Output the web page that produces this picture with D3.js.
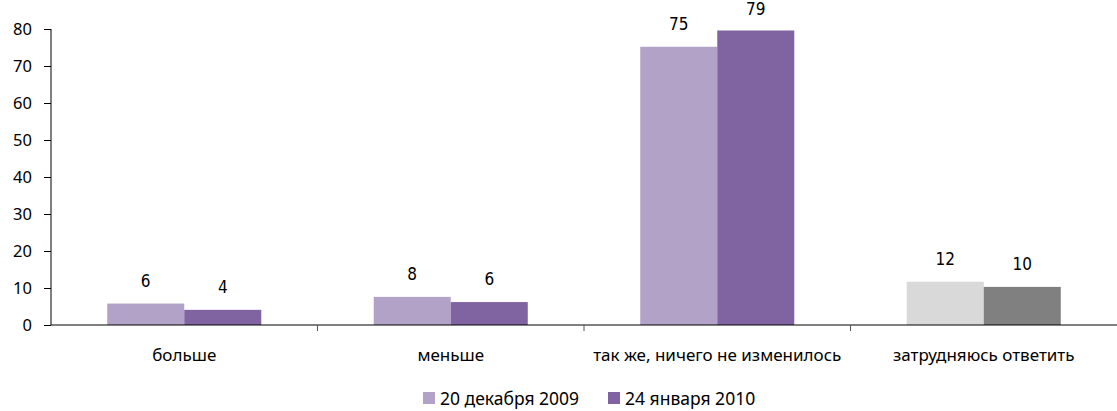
<!DOCTYPE html>
<html>
<head>
<meta charset="utf-8">
<script src="https://cdn.jsdelivr.net/npm/d3@7"></script>
<style>
  body { margin: 0; background: #fff; }
  svg text { font-family: "Noto Sans", sans-serif; fill: #000; }
  .val { font-family: "Liberation Sans Narrow", "DejaVu Sans Condensed", sans-serif; }
</style>
</head>
<body>
<div id="chart"></div>
<script>
// Data
const categories = ["больше", "меньше", "так же, ничего не изменилось", "затрудняюсь ответить"];
const seriesNames = ["20 декабря 2009", "24 января 2010"];
const dec2009 = [5.8, 7.6, 75.2, 11.7];
const jan2010 = [4.1, 6.2, 79.6, 10.3];
const dec2009Labels = [6, 8, 75, 12];
const jan2010Labels = [4, 6, 79, 10];
const yTicks = [0, 10, 20, 30, 40, 50, 60, 70, 80];

const colors = [
  ["#b3a2c7", "#8064a2"],
  ["#b3a2c7", "#8064a2"],
  ["#b3a2c7", "#8064a2"],
  ["#d9d9d9", "#808080"]
];
const legendColors = ["#b3a2c7", "#8064a2"];

const width = 1117, height = 411;
const margin = {top: 29, right: 0, bottom: 86, left: 51};
const innerW = width - margin.left - margin.right,
      innerH = height - margin.top - margin.bottom;

const svg = d3.select("#chart").append("svg")
  .attr("width", width)
  .attr("height", height);

const g = svg.append("g")
  .attr("transform", `translate(${margin.left},${margin.top})`);

const x = d3.scaleBand().domain(categories).range([0, innerW]);
const y = d3.scaleLinear().domain([0, 80]).range([innerH, 0]);

const barW = x.bandwidth() * 0.289;

// Y axis
const yAxis = g.append("g")
  .call(d3.axisLeft(y).tickValues(yTicks).tickSize(7).tickPadding(12));
yAxis.select(".domain").attr("stroke", "#000").attr("d", `M0,0V${innerH}`);
yAxis.selectAll(".tick line").attr("stroke", "#000");
yAxis.selectAll(".tick text").style("font-size", "16.5px");

// Bars
const rows = categories.map((c, i) => ({
  cat: c, i,
  vals: [dec2009[i], jan2010[i]],
  labs: [dec2009Labels[i], jan2010Labels[i]]
}));
const groups = g.selectAll(".grp").data(rows).enter().append("g")
  .attr("class", "grp")
  .attr("transform", d => `translate(${x(d.cat) + x.bandwidth() / 2 - barW},0)`);

groups.selectAll("rect").data(d => d.vals.map((v, k) => ({v, k, i: d.i}))).enter()
  .append("rect")
  .attr("x", d => d.k * barW)
  .attr("y", d => y(d.v))
  .attr("width", barW)
  .attr("height", d => innerH - y(d.v))
  .attr("fill", d => colors[d.i][d.k]);

// value labels, kept inside the page at the top
groups.selectAll("text.val").data(d => d.vals.map((v, k) => ({v, k, lab: d.labs[k]}))).enter()
  .append("text")
  .attr("class", "val")
  .attr("x", d => d.k * barW + barW / 2)
  .attr("y", d => Math.max(y(d.v) - 17, 15 - margin.top))
  .attr("text-anchor", "middle")
  .style("font-size", "17px")
  .text(d => d.lab);

// X axis
const xAxis = g.append("g")
  .attr("transform", `translate(0,${innerH})`);
xAxis.append("line")
  .attr("x1", 0).attr("x2", innerW)
  .attr("stroke", "#000");
const bounds = categories.slice(1).map(c => x(c));
xAxis.selectAll(".sep").data(bounds).enter().append("line")
  .attr("x1", d => d).attr("x2", d => d)
  .attr("y1", 0).attr("y2", 6)
  .attr("stroke", "#555");
xAxis.selectAll(".lab").data(categories).enter().append("text")
  .attr("x", d => x(d) + x.bandwidth() / 2)
  .attr("y", 36)
  .attr("text-anchor", "middle")
  .style("font-size", "17px")
  .text(d => d);

// Legend
const legendX = [423, 608];
const legend = svg.selectAll(".leg").data(seriesNames).enter().append("g")
  .attr("transform", (d, i) => `translate(${legendX[i]},392)`);
legend.append("rect")
  .attr("width", 12).attr("height", 12)
  .attr("fill", (d, i) => legendColors[i]);
legend.append("text")
  .attr("x", 17).attr("y", 12.5)
  .style("font-size", "17.5px")
  .text(d => d);
</script>
</body>
</html>
